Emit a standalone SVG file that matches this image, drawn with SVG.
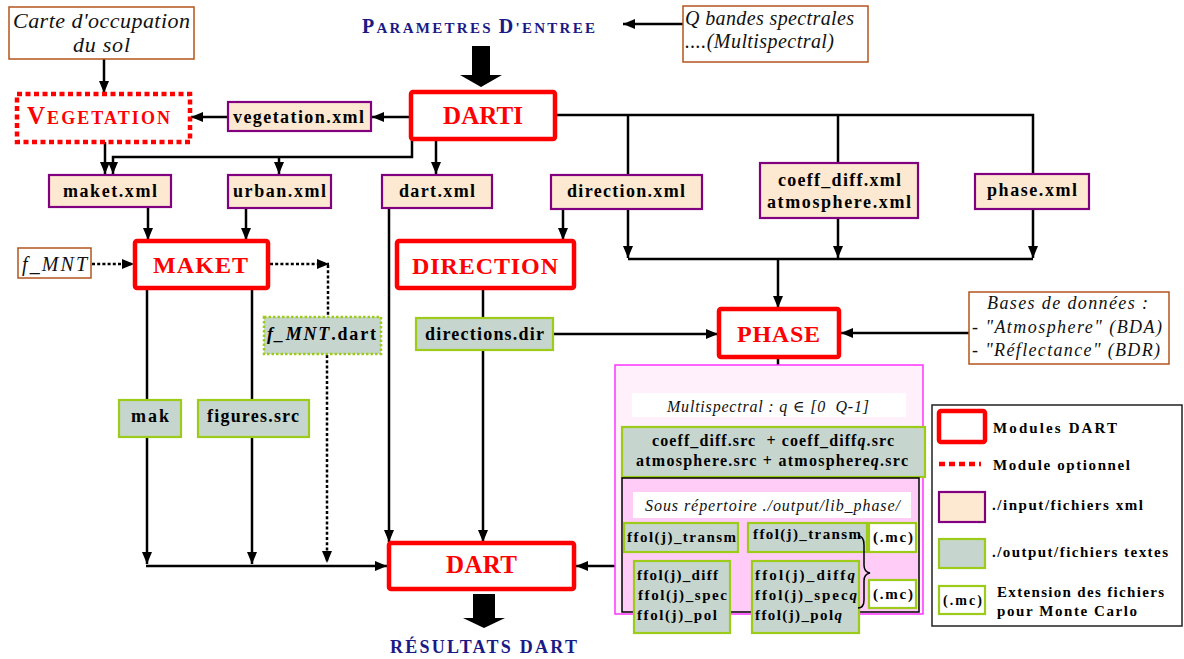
<svg xmlns="http://www.w3.org/2000/svg" width="1184" height="659" viewBox="0 0 1184 659" font-family="'Liberation Serif', 'DejaVu Serif', serif">
<style>
.mod{fill:#fff;stroke:#f00;stroke-width:4.5}
.opt{fill:#fff;stroke:#f00;stroke-width:4.5;stroke-dasharray:5 3.5}
.xml{fill:#fde9d1;stroke:#800080;stroke-width:2.2}
.out{fill:#c6d6cf;stroke:#9ccb19;stroke-width:2.2}
.outd{fill:#c6d6cf;stroke:#9ccb19;stroke-width:2.5;stroke-dasharray:2.5 2}
.inp{fill:#fff;stroke:#b4541c;stroke-width:1.5}
.mc{fill:#fff;stroke:#9ccb19;stroke-width:2.2}
text{font-family:'Liberation Serif','DejaVu Serif',serif}
.t{font-weight:bold;fill:#000}
.r{font-weight:bold;fill:#f00}
.n{font-weight:bold;fill:#1a1a86}
.i{font-style:italic;fill:#111}
.c{stroke:#000;stroke-width:2.5;fill:none}
.d{stroke-dasharray:3 2.2}
</style>
<defs>
<marker id="ah" markerUnits="userSpaceOnUse" markerWidth="12" markerHeight="10" refX="12" refY="5" orient="auto">
<path d="M0,0 L12,5 L0,10 z" fill="#000"/>
</marker>
</defs>
<rect width="1184" height="659" fill="#fff"/>

<g id="connectors">
<line class="c" x1="104" y1="59" x2="104" y2="93" marker-end="url(#ah)"/>
<line class="c" x1="228" y1="117" x2="191" y2="117" marker-end="url(#ah)"/>
<line class="c" x1="411" y1="117" x2="372" y2="117" marker-end="url(#ah)"/>
<line class="c" x1="105" y1="142" x2="105" y2="174" marker-end="url(#ah)"/>
<polyline class="c" points="412,139 412,157 113,157 113,174" marker-end="url(#ah)"/>
<line class="c" x1="279" y1="157" x2="279" y2="174" marker-end="url(#ah)"/>
<line class="c" x1="436" y1="139" x2="436" y2="174" marker-end="url(#ah)"/>
<polyline class="c" points="555,115 1033,115 1033,174"/>
<line class="c" x1="628" y1="115" x2="628" y2="175"/>
<line class="c" x1="838" y1="115" x2="838" y2="163"/>
<line class="c" x1="148" y1="207" x2="148" y2="240" marker-end="url(#ah)"/>
<line class="c" x1="246" y1="208" x2="246" y2="240" marker-end="url(#ah)"/>
<line class="c d" x1="92" y1="264" x2="134" y2="264" marker-end="url(#ah)"/>
<line class="c d" x1="270" y1="264" x2="329" y2="264" marker-end="url(#ah)"/>
<line class="c d" x1="328" y1="265" x2="328" y2="317"/>
<line class="c d" x1="327" y1="355" x2="327" y2="563" marker-end="url(#ah)"/>
<line class="c" x1="147" y1="288" x2="147" y2="400"/>
<line class="c" x1="147" y1="437" x2="147" y2="564" marker-end="url(#ah)"/>
<line class="c" x1="252" y1="288" x2="252" y2="400"/>
<line class="c" x1="252" y1="437" x2="252" y2="564" marker-end="url(#ah)"/>
<line class="c" x1="146" y1="566" x2="387" y2="566" marker-end="url(#ah)"/>
<line class="c" x1="389" y1="208" x2="389" y2="542" marker-end="url(#ah)"/>
<line class="c" x1="563" y1="209" x2="563" y2="240" marker-end="url(#ah)"/>
<line class="c" x1="628" y1="209" x2="628" y2="258" marker-end="url(#ah)"/>
<line class="c" x1="838" y1="218" x2="838" y2="258" marker-end="url(#ah)"/>
<line class="c" x1="1033" y1="209" x2="1033" y2="258" marker-end="url(#ah)"/>
<line class="c" x1="628" y1="259" x2="1033" y2="259"/>
<line class="c" x1="778" y1="259" x2="778" y2="308" marker-end="url(#ah)"/>
<line class="c" x1="483" y1="288" x2="483" y2="318"/>
<line class="c" x1="483" y1="350" x2="483" y2="542" marker-end="url(#ah)"/>
<line class="c" x1="553" y1="334" x2="718" y2="334" marker-end="url(#ah)"/>
<line class="c" x1="969" y1="333" x2="841" y2="333" marker-end="url(#ah)"/>
<line class="c" x1="778" y1="357" x2="778" y2="388" marker-end="url(#ah)"/>
<line class="c" x1="622" y1="566" x2="576" y2="566" marker-end="url(#ah)"/>
<line class="c" x1="683" y1="24" x2="623" y2="24" marker-end="url(#ah)"/>
<polygon points="472,46 490,46 490,75 502,75 481,87 460,75 472,75" fill="#000"/>
<polygon points="473,594 495,594 495,618 505,618 484,628 463,618 473,618" fill="#000"/>
</g>

<g id="carte">
<rect class="inp" x="9" y="7" width="185" height="52"/>
<text class="i" x="13" y="28" font-size="22" textLength="177" lengthAdjust="spacing">Carte d'occupation</text>
<text class="i" x="73" y="52" font-size="22" textLength="57" lengthAdjust="spacing">du sol</text>
</g>
<g id="vegetation">
<rect class="opt" x="17" y="94" width="173" height="48"/>
<text class="r" x="27" y="124" textLength="143" lengthAdjust="spacing"><tspan font-size="25">V</tspan><tspan font-size="18">EGETATION</tspan></text>
</g>
<g id="vegetation-xml">
<rect class="xml" x="228" y="102" width="143" height="29"/>
<text class="t" x="233" y="123" font-size="18" textLength="131" lengthAdjust="spacing">vegetation.xml</text>
</g>
<g id="darti">
<rect class="mod" x="411" y="92" width="144" height="47" rx="2"/>
<text class="r" x="443" y="124" font-size="25" textLength="80" lengthAdjust="spacing">DARTI</text>
</g>
<g id="parametres">
<text class="n" x="362" y="33" textLength="233" lengthAdjust="spacing"><tspan font-size="20">P</tspan><tspan font-size="15">ARAMETRES </tspan><tspan font-size="20">D</tspan><tspan font-size="15">'ENTREE</tspan></text>
</g>
<g id="qbandes">
<rect class="inp" x="683" y="6" width="185" height="56"/>
<text class="i" x="685" y="25" font-size="20" textLength="169" lengthAdjust="spacing">Q bandes spectrales</text>
<text class="i" x="685" y="48" font-size="20" textLength="149" lengthAdjust="spacing">....(Multispectral)</text>
</g>
<g id="maket-xml">
<rect class="xml" x="49" y="175" width="122" height="32"/>
<text class="t" x="63" y="197" font-size="18" textLength="94" lengthAdjust="spacing">maket.xml</text>
</g>
<g id="urban-xml">
<rect class="xml" x="228" y="175" width="103" height="33"/>
<text class="t" x="233" y="197" font-size="18" textLength="93" lengthAdjust="spacing">urban.xml</text>
</g>
<g id="dart-xml">
<rect class="xml" x="382" y="175" width="110" height="33"/>
<text class="t" x="399" y="197" font-size="18" textLength="76" lengthAdjust="spacing">dart.xml</text>
</g>
<g id="direction-xml">
<rect class="xml" x="551" y="175" width="151" height="34"/>
<text class="t" x="567" y="197" font-size="18" textLength="118" lengthAdjust="spacing">direction.xml</text>
</g>
<g id="coeff-xml">
<rect class="xml" x="760" y="163" width="158" height="55"/>
<text class="t" x="778" y="186" font-size="18" textLength="123" lengthAdjust="spacing">coeff_diff.xml</text>
<text class="t" x="767" y="208" font-size="18" textLength="144" lengthAdjust="spacing">atmosphere.xml</text>
</g>
<g id="phase-xml">
<rect class="xml" x="975" y="174" width="114" height="35"/>
<text class="t" x="987" y="196" font-size="18" textLength="90" lengthAdjust="spacing">phase.xml</text>
</g>
<g id="fmnt">
<rect class="inp" x="18" y="248" width="73" height="30"/>
<text class="i" x="22" y="271" font-size="20" textLength="65" lengthAdjust="spacing">f_MNT</text>
</g>
<g id="maket">
<rect class="mod" x="135" y="241" width="133" height="47" rx="2"/>
<text class="r" x="153" y="273" font-size="24" textLength="95" lengthAdjust="spacing">MAKET</text>
</g>
<g id="direction">
<rect class="mod" x="397" y="241" width="177" height="47" rx="2"/>
<text class="r" x="412" y="274" font-size="24" textLength="146" lengthAdjust="spacing">DIRECTION</text>
</g>
<g id="fmnt-dart">
<rect class="outd" x="264" y="317" width="117" height="37"/>
<text class="t" x="267" y="340" font-size="18" textLength="109" lengthAdjust="spacing"><tspan font-style="italic">f_MNT</tspan>.dart</text>
</g>
<g id="directions-dir">
<rect class="out" x="416" y="318" width="137" height="32"/>
<text class="t" x="425" y="340" font-size="18" textLength="119" lengthAdjust="spacing">directions.dir</text>
</g>
<g id="mak">
<rect class="out" x="119" y="400" width="62" height="37"/>
<text class="t" x="131" y="422" font-size="18" textLength="38" lengthAdjust="spacing">mak</text>
</g>
<g id="figures">
<rect class="out" x="198" y="400" width="111" height="37"/>
<text class="t" x="207" y="422" font-size="18" textLength="92" lengthAdjust="spacing">figures.src</text>
</g>
<g id="phase">
<rect class="mod" x="719" y="309" width="120" height="48" rx="2"/>
<text class="r" x="737" y="342" font-size="24" textLength="83" lengthAdjust="spacing">PHASE</text>
</g>
<g id="bases">
<rect class="inp" x="969" y="292" width="200" height="72"/>
<text class="i" x="987" y="309" font-size="18" textLength="161" lengthAdjust="spacing">Bases de données :</text>
<text class="i" x="972" y="333" font-size="18" textLength="190" lengthAdjust="spacing">- "Atmosphere" (BDA)</text>
<text class="i" x="972" y="356" font-size="18" textLength="188" lengthAdjust="spacing">- "Réflectance" (BDR)</text>
</g>
<g id="multispectral">
<rect x="615" y="365" width="308" height="249" fill="#fff0fc" stroke="#ff33ff" stroke-width="1.5"/>
<rect x="632" y="393" width="274" height="24" fill="#fff"/>
<text class="i" x="667" y="412" font-size="16" textLength="202" lengthAdjust="spacing">Multispectral : q ∈ [0&#160; Q-1]</text>
</g>
<g id="coeff-src">
<rect class="out" x="622" y="427" width="303" height="50"/>
<text class="t" x="652" y="446" font-size="16" textLength="242" lengthAdjust="spacing">coeff_diff.src&#160; + coeff_diff<tspan font-style="italic">q</tspan>.src</text>
<text class="t" x="636" y="466" font-size="16" textLength="272" lengthAdjust="spacing">atmosphere.src + atmosphere<tspan font-style="italic">q</tspan>.src</text>
</g>
<g id="lib-phase">
<rect x="622" y="478" width="297" height="134" fill="#ffccf7" stroke="#000" stroke-width="1.5"/>
<rect x="633" y="492" width="278" height="26" fill="#fff"/>
<text class="i" x="645" y="511" font-size="16" textLength="255" lengthAdjust="spacing">Sous répertoire ./output/lib_phase/</text>
</g>
<g id="transm1">
<rect class="out" x="624" y="523" width="114" height="29"/>
<text class="t" x="627" y="542" font-size="15" textLength="109" lengthAdjust="spacing">ffol(j)_transm</text>
</g>
<g id="transm2">
<rect class="out" x="748" y="523" width="119" height="29"/>
<text class="t" x="753" y="539" font-size="15" textLength="108" lengthAdjust="spacing">ffol(j)_transm</text>
</g>
<g id="mc1">
<rect class="mc" x="869" y="523" width="47" height="29"/>
<text class="t" x="873" y="542" font-size="15" textLength="40" lengthAdjust="spacing">(.mc)</text>
</g>
<g id="ffol1">
<rect class="out" x="634" y="561" width="96" height="72"/>
<text class="t" x="637" y="580" font-size="15" textLength="81" lengthAdjust="spacing">ffol(j)_diff</text>
<text class="t" x="638" y="600" font-size="15" textLength="89" lengthAdjust="spacing">ffol(j)_spec</text>
<text class="t" x="637" y="620" font-size="15" textLength="80" lengthAdjust="spacing">ffol(j)_pol</text>
</g>
<g id="ffol2">
<rect class="out" x="752" y="561" width="107" height="72"/>
<text class="t" x="755" y="580" font-size="15" textLength="100" lengthAdjust="spacing">ffol(j)_diff<tspan font-style="italic">q</tspan></text>
<text class="t" x="755" y="600" font-size="15" textLength="102" lengthAdjust="spacing">ffol(j)_spec<tspan font-style="italic">q</tspan></text>
<text class="t" x="755" y="620" font-size="15" textLength="87" lengthAdjust="spacing">ffol(j)_pol<tspan font-style="italic">q</tspan></text>
</g>
<g id="brace">
<path d="M858,536 Q864,536 864,545 L864,565 Q864,572 870,573 Q864,574 864,581 L864,600 Q864,608 858,608" fill="none" stroke="#000" stroke-width="1.5"/>
</g>
<g id="mc2">
<rect class="mc" x="869" y="580" width="47" height="28"/>
<text class="t" x="873" y="599" font-size="15" textLength="40" lengthAdjust="spacing">(.mc)</text>
</g>
<g id="dart">
<rect class="mod" x="389" y="543" width="185" height="46" rx="2"/>
<text class="r" x="446" y="573" font-size="25" textLength="71" lengthAdjust="spacing">DART</text>
</g>
<g id="resultats">
<text class="n" x="390" y="653" font-size="18" textLength="187" lengthAdjust="spacing">RÉSULTATS DART</text>
</g>
<g id="legend">
<rect x="932" y="405" width="250" height="221" fill="#fff" stroke="#222" stroke-width="1.5"/>
<rect class="mod" x="939" y="411" width="46" height="31" rx="2"/>
<text class="t" x="993" y="433" font-size="15" textLength="124" lengthAdjust="spacing">Modules DART</text>
<line x1="939" y1="464" x2="981" y2="464" stroke="#f00" stroke-width="4.5" stroke-dasharray="6 4"/>
<text class="t" x="993" y="470" font-size="15" textLength="137" lengthAdjust="spacing">Module optionnel</text>
<rect class="xml" x="939" y="492" width="46" height="30"/>
<text class="t" x="992" y="510" font-size="15" textLength="151" lengthAdjust="spacing">./input/fichiers xml</text>
<rect class="out" x="939" y="539" width="46" height="29"/>
<text class="t" x="992" y="557" font-size="15" textLength="176" lengthAdjust="spacing">./output/fichiers textes</text>
<rect class="mc" x="939" y="586" width="46" height="28"/>
<text class="t" x="943" y="605" font-size="14" textLength="39" lengthAdjust="spacing">(.mc)</text>
<text class="t" x="997" y="597" font-size="15" textLength="167" lengthAdjust="spacing">Extension des fichiers</text>
<text class="t" x="997" y="616" font-size="15" textLength="140" lengthAdjust="spacing">pour Monte Carlo</text>
</g>
</svg>
